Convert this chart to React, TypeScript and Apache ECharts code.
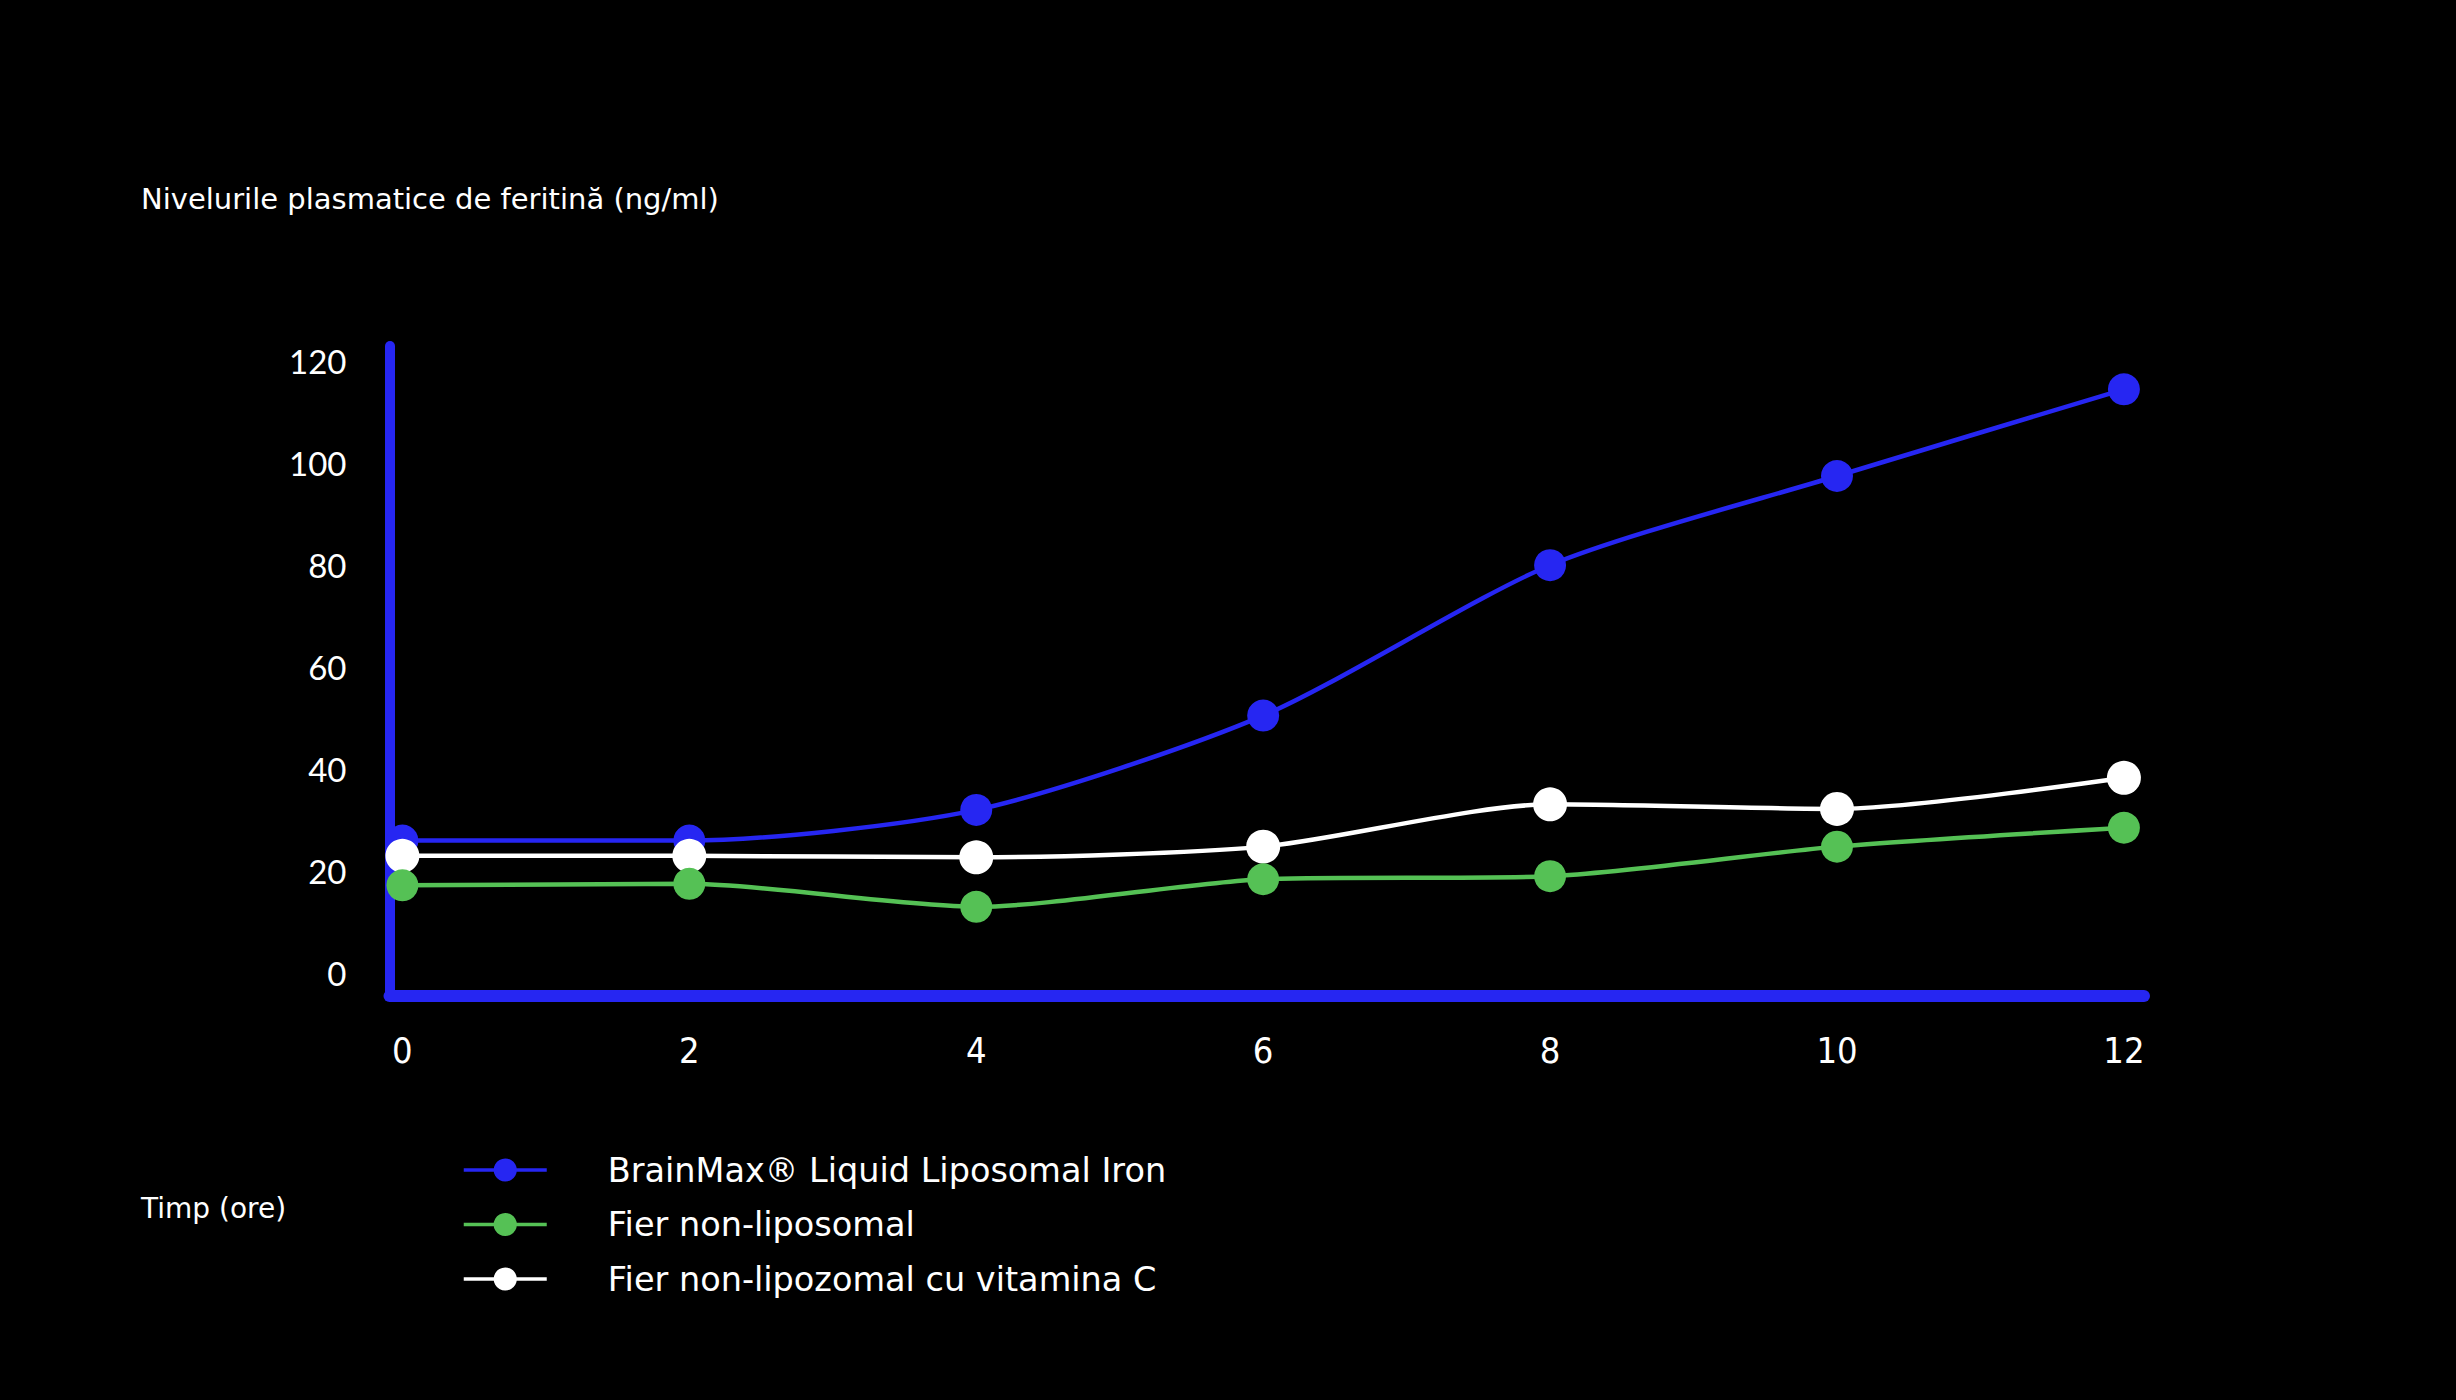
import React, { useEffect, useRef } from "react";
import * as echarts from "echarts";

const hours = [0, 2, 4, 6, 8, 10, 12];
const xTickLabels = [0, 2, 4, 6, 8, 10, 12];
const yTickLabels = [0, 20, 40, 60, 80, 100, 120];

const seriesNames = [
  "BrainMax® Liquid Liposomal Iron",
  "Fier non-liposomal",
  "Fier non-lipozomal cu vitamina C",
];
const brainMaxValues = [26, 26, 32, 50.5, 80, 97.5, 114.5];
const nonLiposomalValues = [17.2, 17.5, 13, 18.4, 19, 24.8, 28.5];
const vitaminCValues = [23, 23, 22.7, 24.8, 33.1, 32.2, 38.3];

const yTitle = "Nivelurile plasmatice de feritină (ng/ml)";
const xTitle = "Timp (ore)";

const BLUE = "#2626f2";
const GREEN = "#55c155";
const WHITE = "#ffffff";
const FONT = "Lato, 'Open Sans', sans-serif";
const WIDE = "'DejaVu Sans', 'Open Sans', sans-serif";

function toPairs(vals: number[]) {
  return hours.map((h, i) => [h, vals[i]]);
}

export default function App() {
  const ref = useRef<HTMLDivElement>(null);
  useEffect(() => {
    if (!ref.current) return;
    const chart = echarts.init(ref.current, null, { renderer: "svg" });
    chart.setOption({
      animation: false,
      backgroundColor: "#000000",
      title: [
        {
          text: yTitle,
          left: 136,
          top: 179,
          textStyle: { color: "#ffffff", fontSize: 29, fontWeight: "normal", fontFamily: WIDE },
        },
        {
          text: xTitle,
          left: 136,
          top: 1189,
          textStyle: { color: "#ffffff", fontSize: 28, fontWeight: "normal", fontFamily: WIDE },
        },
      ],
      legend: {
        orient: "vertical",
        left: 462,
        top: 1151,
        padding: 0,
        itemWidth: 83,
        itemHeight: 29,
        itemGap: 16.5,
        data: [seriesNames[0], seriesNames[1], seriesNames[2]],
        lineStyle: { width: 3.5 },
        textStyle: {
          color: "#ffffff",
          fontSize: 33.5,
          fontFamily: WIDE,
          lineHeight: 38,
          padding: [0, 0, 0, 56],
        },
      },
      grid: { left: 389.5, right: 312, top: 346, bottom: 404, containLabel: false },
      xAxis: {
        type: "value",
        min: -0.09,
        max: 12.14,
        axisLine: { show: true, onZero: false, lineStyle: { color: BLUE, width: 12 } },
        axisTick: { show: false },
        splitLine: { show: false },
        axisLabel: {
          customValues: xTickLabels,
          color: "#ffffff",
          fontSize: 36,
          margin: 36,
          fontFamily: "'Liberation Sans Narrow', 'DejaVu Sans Condensed', Lato, sans-serif",
        },
      },
      yAxis: {
        type: "value",
        min: -4.5,
        max: 123,
        axisLine: { show: true, onZero: false, lineStyle: { color: BLUE, width: 10 } },
        axisTick: { show: false },
        splitLine: { show: false },
        axisLabel: {
          customValues: yTickLabels,
          color: "#ffffff",
          fontSize: 33,
          margin: 43,
          fontFamily: FONT,
        },
      },
      series: [
        {
          name: seriesNames[0],
          type: "line",
          data: toPairs(brainMaxValues),
          smooth: 0.25,
          symbol: "circle",
          symbolSize: 32,
          z: 2,
          lineStyle: { color: BLUE, width: 4.5 },
          itemStyle: { color: BLUE },
        },
        {
          name: seriesNames[2],
          type: "line",
          data: toPairs(vitaminCValues),
          smooth: 0.25,
          symbol: "circle",
          symbolSize: 34,
          z: 3,
          lineStyle: { color: WHITE, width: 4.5 },
          itemStyle: { color: WHITE },
        },
        {
          name: seriesNames[1],
          type: "line",
          data: toPairs(nonLiposomalValues),
          smooth: 0.25,
          symbol: "circle",
          symbolSize: 32,
          z: 4,
          lineStyle: { color: GREEN, width: 4.5 },
          itemStyle: { color: GREEN },
        },
      ],
    });
    return () => chart.dispose();
  }, []);
  return (
    <div
      ref={ref}
      style={{ position: "fixed", left: 0, top: 0, width: 2456, height: 1400, background: "#000" }}
    />
  );
}
